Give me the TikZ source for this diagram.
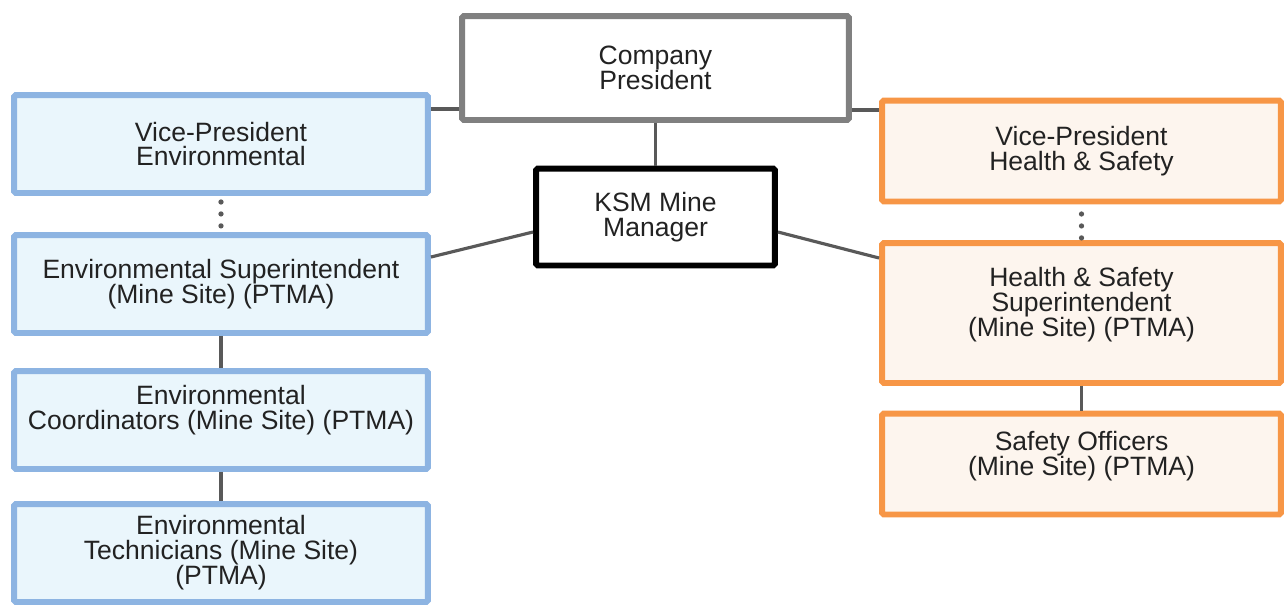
\documentclass[tikz,border=0pt]{standalone}
\usepackage{fontspec}
\setmainfont{Liberation Sans}
\usepackage{tikz}
\usetikzlibrary{positioning}
\usepackage{xcolor}
\definecolor{ksmgray}{RGB}{128,128,128}
\definecolor{ksmline}{RGB}{89,89,89}
\definecolor{ksmblue}{RGB}{141,180,226}
\definecolor{ksmlightblue}{RGB}{234,246,252}
\definecolor{ksmorange}{RGB}{247,150,70}
\definecolor{ksmlightorange}{RGB}{253,245,238}
\definecolor{ksmtext}{RGB}{34,34,34}
\newcommand{\ksmfont}{\fontsize{15.1}{14.2}\selectfont\lineskiplimit=-6pt\relax}
\tikzstyle{orgbox} = [rectangle, line width=3.4pt, align=center, text=ksmtext, font=\ksmfont, rounded corners=1pt]
\tikzstyle{envbox} = [orgbox, draw=ksmblue, fill=ksmlightblue, minimum width=8.28cm, minimum height=1.96cm]
\tikzstyle{hsbox} = [orgbox, draw=ksmorange, fill=ksmlightorange, minimum width=7.98cm, minimum height=2.02cm]
\tikzstyle{link} = [line width=1.8pt, color=ksmline]
\tikzstyle{dotlink} = [color=ksmline, line width=3pt, line cap=round, dash pattern=on 0pt off 6.8pt]

\begin{document}
\begin{tikzpicture}[x=0.02cm, y=-0.02cm]
\useasboundingbox (0,0) rectangle (1285,606);
% Top
\node[orgbox, draw=ksmgray, fill=white, minimum width=7.74cm, minimum height=2.08cm] (pres) at (655.5,68) {Company\\President};
\node[orgbox, draw=black, fill=white, minimum width=4.78cm, minimum height=1.94cm] (ksm) at (655.5,217) {KSM Mine\\Manager};

% Environmental side
\node[envbox] (vpenv) at (221,144) {Vice-President\\Environmental};
\node[envbox] (envsup) at (221,284) {Environmental Superintendent\\(Mine Site) (PTMA)};
\node[envbox] (envcoord) at (221,420) {Environmental\\Coordinators (Mine Site) (PTMA)\\[0.6pt]};
\node[envbox] (envtech) at (221,553) {Environmental\\Technicians (Mine Site)\\(PTMA)};

% Health & Safety side
\node[hsbox] (vphs) at (1081.5,151) {Vice-President\\Health \& Safety};
\node[hsbox, minimum height=2.8cm] (hssup) at (1081.5,313) {Health \& Safety\\Superintendent\\(Mine Site) (PTMA)\\[-1.7pt]};
\node[hsbox] (safety) at (1081.5,464) {Safety Officers\\(Mine Site) (PTMA)\\[-1.7pt]};

% Links
\draw[link] (pres.south) -- (ksm.north);
\draw[link] (pres.west |- 0,109) -- (vpenv.east |- 0,109);
\draw[link] (pres.east |- 0,110) -- (vphs.west |- 0,110);
\draw[link] (ksm.west |- 0,232) -- (envsup.east |- 0,257);
\draw[link] (ksm.east |- 0,232) -- (hssup.west |- 0,258);
\draw[dotlink] (vpenv.south |- 0,202) -- (envsup.north |- 0,227);
\draw[dotlink] (vphs.south |- 0,214) -- (hssup.north |- 0,239);
\draw[link] (envsup.south) -- (envcoord.north);
\draw[link] (envcoord.south) -- (envtech.north);
\draw[link] (hssup.south) -- (safety.north);
\end{tikzpicture}
\end{document}
